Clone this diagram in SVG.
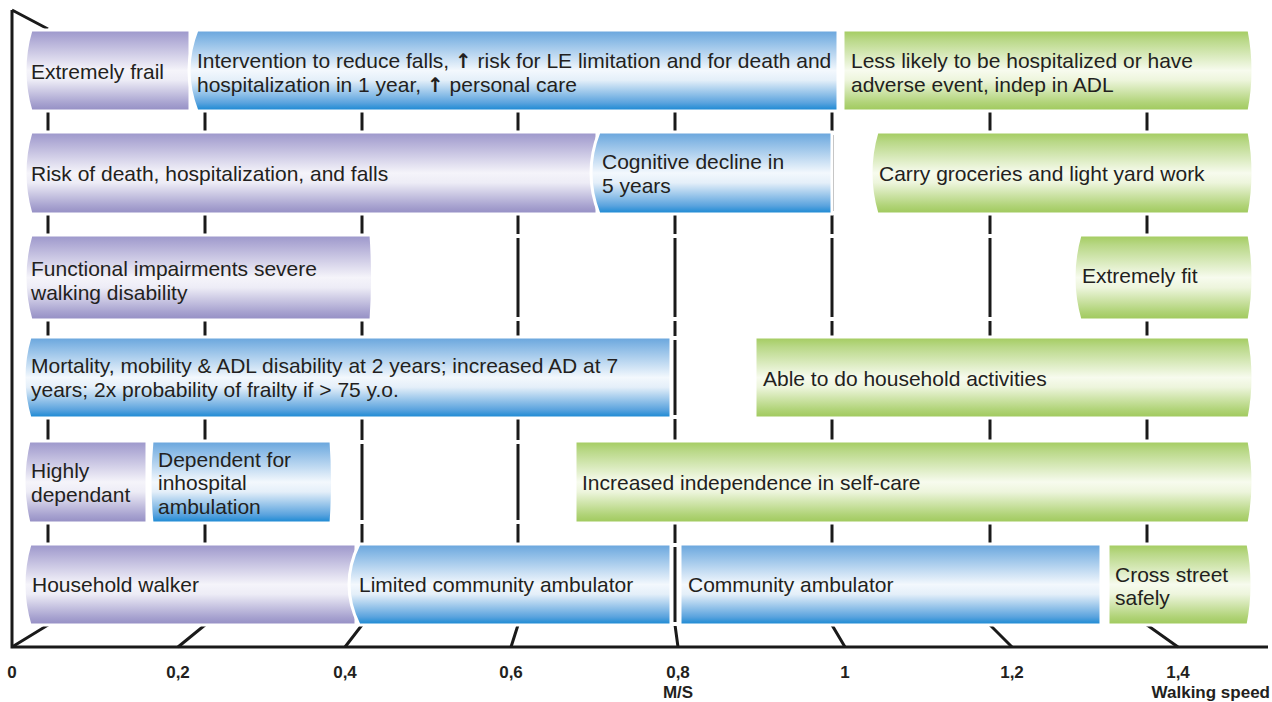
<svg xmlns="http://www.w3.org/2000/svg" width="1272" height="702" viewBox="0 0 1272 702">
<style>
.t{font-family:"Liberation Sans",Arial,sans-serif;font-size:21px;fill:#231f20}
.ax{font-family:"Liberation Sans",Arial,sans-serif;font-size:17px;font-weight:bold;fill:#231f20;text-anchor:middle}
.bar{stroke:#fff;stroke-width:3}
.p{fill:url(#gp)}
.b{fill:url(#gb)}
.g{fill:url(#gg)}
.grid{stroke:#1a1a1a;stroke-width:3;fill:none}
.brk{stroke:#fff;stroke-width:4}
.ar{font-family:"DejaVu Sans",sans-serif;font-weight:bold;font-size:20px}
</style>
<defs>
<linearGradient id="gp" x1="0" y1="0" x2="0" y2="1">
<stop offset="0" stop-color="#9b96ca"/>
<stop offset="0.12" stop-color="#b1acd6"/>
<stop offset="0.5" stop-color="#f5f4fa"/>
<stop offset="0.62" stop-color="#edecf6"/>
<stop offset="0.9" stop-color="#a8a3d0"/>
<stop offset="1" stop-color="#938dc3"/>
</linearGradient>
<linearGradient id="gb" x1="0" y1="0" x2="0" y2="1">
<stop offset="0" stop-color="#67a4dc"/>
<stop offset="0.12" stop-color="#88b9e5"/>
<stop offset="0.5" stop-color="#f3f8fd"/>
<stop offset="0.62" stop-color="#e4eff9"/>
<stop offset="0.9" stop-color="#5aa3de"/>
<stop offset="1" stop-color="#1386d2"/>
</linearGradient>
<linearGradient id="gg" x1="0" y1="0" x2="0" y2="1">
<stop offset="0" stop-color="#a2cb5d"/>
<stop offset="0.12" stop-color="#b9d887"/>
<stop offset="0.5" stop-color="#f7fbee"/>
<stop offset="0.62" stop-color="#edf5dc"/>
<stop offset="0.9" stop-color="#b0d377"/>
<stop offset="1" stop-color="#9ec85a"/>
</linearGradient>
</defs>
<rect width="1272" height="702" fill="#fff"/>
<g id="axes">
<path class="grid" d="M12 10 V647 H1268 M12 10 L48 29"/>
<path class="grid" d="M48 29 V625 L12 647 M205 30 V625 L178 647 M362 30 V625 L345 647 M518 30 V625 L511 647 M675 30 V625 L678 647 M832 30 V625 L845 647 M990 30 V625 L1012 647 M1147 30 V625 L1178 647"/>
<path class="brk" d="M30 31 H1260 M30 110 H1260 M30 133 H1260 M30 213 H1260 M30 236 H1260 M30 319 H1260 M30 338 H1260 M30 417 H1260 M30 442 H1260 M30 522 H1260 M30 545 H1260 M30 624 H1260"/>
<text class="ax" x="12" y="678">0</text>
<text class="ax" x="178" y="678">0,2</text>
<text class="ax" x="345" y="678">0,4</text>
<text class="ax" x="511" y="678">0,6</text>
<text class="ax" x="678" y="678">0,8</text>
<text class="ax" x="845" y="678">1</text>
<text class="ax" x="1012" y="678">1,2</text>
<text class="ax" x="1178" y="678">1,4</text>
<text class="ax" x="678" y="698">M/S</text>
<text class="ax" x="1270" y="698" style="text-anchor:end">Walking speed</text>
</g>
<g id="n-frail"><path class="bar p" d="M31 30 H190 V111 H31 Q19 70.5 31 30 Z"/><text class="t" x="31" y="79">Extremely frail</text></g>
<g id="n-intervention"><path class="bar b" d="M197 30 H838 V111 H197 Q181 70.5 197 30 Z"/><text class="t" x="197" y="68">Intervention to reduce falls, <tspan class="ar">↑</tspan> risk for LE limitation and for death and</text><text class="t" x="197" y="92">hospitalization in 1 year, <tspan class="ar">↑</tspan> personal care</text></g>
<g id="n-lesslikely"><path class="bar g" d="M843 30 H1249 Q1257 70.5 1249 111 H843 Z"/><text class="t" x="851" y="68">Less likely to be hospitalized or have</text><text class="t" x="851" y="92">adverse event, indep in ADL</text></g>
<g id="n-risk"><path class="bar p" d="M31 132 H597 V214 H31 Q19 173 31 132 Z"/><text class="t" x="31" y="181">Risk of death, hospitalization, and falls</text></g>
<g id="n-cognitive"><path class="bar b" d="M599 132 H832 V214 H599 Q583 173 599 132 Z"/><text class="t" x="602" y="169">Cognitive decline in</text><text class="t" x="602" y="193">5 years</text></g>
<g id="n-carry"><path class="bar g" d="M877 132 H1249 Q1257 173 1249 214 H877 Q865 173 877 132 Z"/><text class="t" x="879" y="181">Carry groceries and light yard work</text></g>
<g id="n-functional"><path class="bar p" d="M31 235 H371 Q374 277.5 371 320 H31 Q19 277.5 31 235 Z"/><text class="t" x="31" y="276">Functional impairments severe</text><text class="t" x="31" y="300">walking disability</text></g>
<g id="n-fit"><path class="bar g" d="M1080 235 H1249 Q1257 277.5 1249 320 H1080 Q1068 277.5 1080 235 Z"/><text class="t" x="1082" y="283">Extremely fit</text></g>
<g id="n-mortality"><path class="bar b" d="M30 337 H671 V418 H30 Q18 377.5 30 337 Z"/><text class="t" x="31" y="373">Mortality, mobility &amp; ADL disability at 2 years; increased AD at 7</text><text class="t" x="31" y="397">years; 2x probability of frailty if &gt; 75 y.o.</text></g>
<g id="n-able"><path class="bar g" d="M755 337 H1249 Q1257 377.5 1249 418 H755 Z"/><text class="t" x="763" y="386">Able to do household activities</text></g>
<g id="n-highly"><path class="bar p" d="M29 441 H147 V523 H29 Q19 482 29 441 Z"/><text class="t" x="31" y="478">Highly</text><text class="t" x="31" y="502">dependant</text></g>
<g id="n-dependent"><path class="bar b" d="M152 441 H331 Q334 482 331 523 H152 Q148 482 152 441 Z"/><text class="t" x="158" y="467">Dependent for</text><text class="t" x="158" y="490">inhospital</text><text class="t" x="158" y="514">ambulation</text></g>
<g id="n-increased"><path class="bar g" d="M575 441 H1249 Q1257 482 1249 523 H575 Z"/><text class="t" x="582" y="490">Increased independence in self-care</text></g>
<g id="n-household"><path class="bar p" d="M30 544 H356 V625 H30 Q18 584.5 30 544 Z"/><text class="t" x="32" y="592">Household walker</text></g>
<g id="n-limited"><path class="bar b" d="M359 544 H671 V625 H359 Q339 584.5 359 544 Z"/><text class="t" x="359" y="592">Limited community ambulator</text></g>
<g id="n-community"><path class="bar b" d="M680 544 H1101 V625 H680 Z"/><text class="t" x="688" y="592">Community ambulator</text></g>
<g id="n-cross"><path class="bar g" d="M1108 544 H1248 Q1256 584.5 1248 625 H1108 Z"/><text class="t" x="1115" y="582">Cross street</text><text class="t" x="1115" y="605">safely</text></g>
</svg>
